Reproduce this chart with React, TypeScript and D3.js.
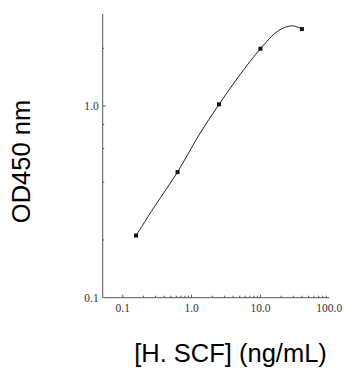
import React from "react";
import * as d3 from "d3";

const concentrations = [0.156, 0.625, 2.5, 10, 40];
const odValues = [0.211, 0.452, 1.02, 1.99, 2.52];
// fitted curve
const fitX = [0.156, 0.3, 0.625, 1.2, 2.5, 5, 10, 18.2, 28.9, 40];
const fitY = [0.211, 0.305, 0.452, 0.68, 1.02, 1.45, 1.99, 2.47, 2.62, 2.52];
const xTickLabels = ["0.1", "1.0", "10.0", "100.0"];
const xTickValues = [0.1, 1, 10, 100];
const yTickLabels = ["0.1", "1.0"];
const yTickValues = [0.1, 1];
const yMinorTicks = [0.2, 0.4, 0.6, 0.8, 2];
const xTitle = "[H. SCF] (ng/mL)";
const yTitle = "OD450 nm";

export default function App() {
  const left = 102.7, right = 329.3, top = 14, bottom = 297.7;
  const x = d3.scaleLog().domain([0.0511, 100]).range([left, right]);
  const y = d3.scaleLog().domain([0.1, 1]).range([bottom, 106]);
  const xMinor: number[] = [];
  [0.1, 1, 10].forEach((d) => {
    for (let k = 2; k <= 9; k++) xMinor.push(d * k);
  });
  const line = d3
    .line<number>()
    .x((_, i) => x(fitX[i]))
    .y((d) => y(d))
    .curve(d3.curveCatmullRom.alpha(0.5));
  const axisColor = "#555";
  const tickFont = "'Liberation Serif', 'Times New Roman', serif";
  return (
    <svg
      width={345}
      height={369}
      style={{ position: "absolute", left: 0, top: 0, background: "#fff" }}
    >
      <line x1={left} y1={top} x2={left} y2={bottom} stroke={axisColor} strokeWidth={1} />
      <line x1={left} y1={bottom} x2={right} y2={bottom} stroke={axisColor} strokeWidth={1} />
      {xTickValues.slice(0, 3).map((v) => (
        <line key={"xt" + v} x1={x(v)} x2={x(v)} y1={bottom} y2={bottom - 3} stroke={axisColor} />
      ))}
      {xMinor.map((v) => (
        <line key={"xm" + v} x1={x(v)} x2={x(v)} y1={bottom} y2={bottom - 2} stroke={axisColor} />
      ))}
      {xTickValues.map((v, i) => (
        <text
          key={"xl" + v}
          x={x(v)}
          y={bottom + 14}
          textAnchor="middle"
          fontFamily={tickFont}
          fontSize={11.5}
          fill="#333"
        >
          {xTickLabels[i]}
        </text>
      ))}
      <line x1={left} x2={left + 3} y1={y(1)} y2={y(1)} stroke={axisColor} />
      {yMinorTicks.map((v) => (
        <line key={"ym" + v} x1={left} x2={left + 1.5} y1={y(v)} y2={y(v)} stroke={axisColor} />
      ))}
      {yTickValues.map((v, i) => (
        <text
          key={"yl" + v}
          x={left - 4}
          y={y(v) + 4}
          textAnchor="end"
          fontFamily={tickFont}
          fontSize={11.5}
          fill="#333"
        >
          {yTickLabels[i]}
        </text>
      ))}
      <path d={line(fitY) || ""} fill="none" stroke="#222" strokeWidth={1} />
      {concentrations.map((c, i) => (
        <rect
          key={"p" + i}
          x={x(c) - 2}
          y={y(odValues[i]) - 2}
          width={4}
          height={4}
          fill="#111"
        />
      ))}
      <text
        x={230.5}
        y={362}
        textAnchor="middle"
        fontFamily="'Liberation Sans', Arial, sans-serif"
        fontSize={25.5}
        fill="#000"
      >
        {xTitle}
      </text>
      <text
        transform={`translate(29.5,161.5) rotate(-90)`}
        textAnchor="middle"
        fontFamily="'Liberation Sans', Arial, sans-serif"
        fontSize={25.5}
        fill="#000"
      >
        {yTitle}
      </text>
    </svg>
  );
}
